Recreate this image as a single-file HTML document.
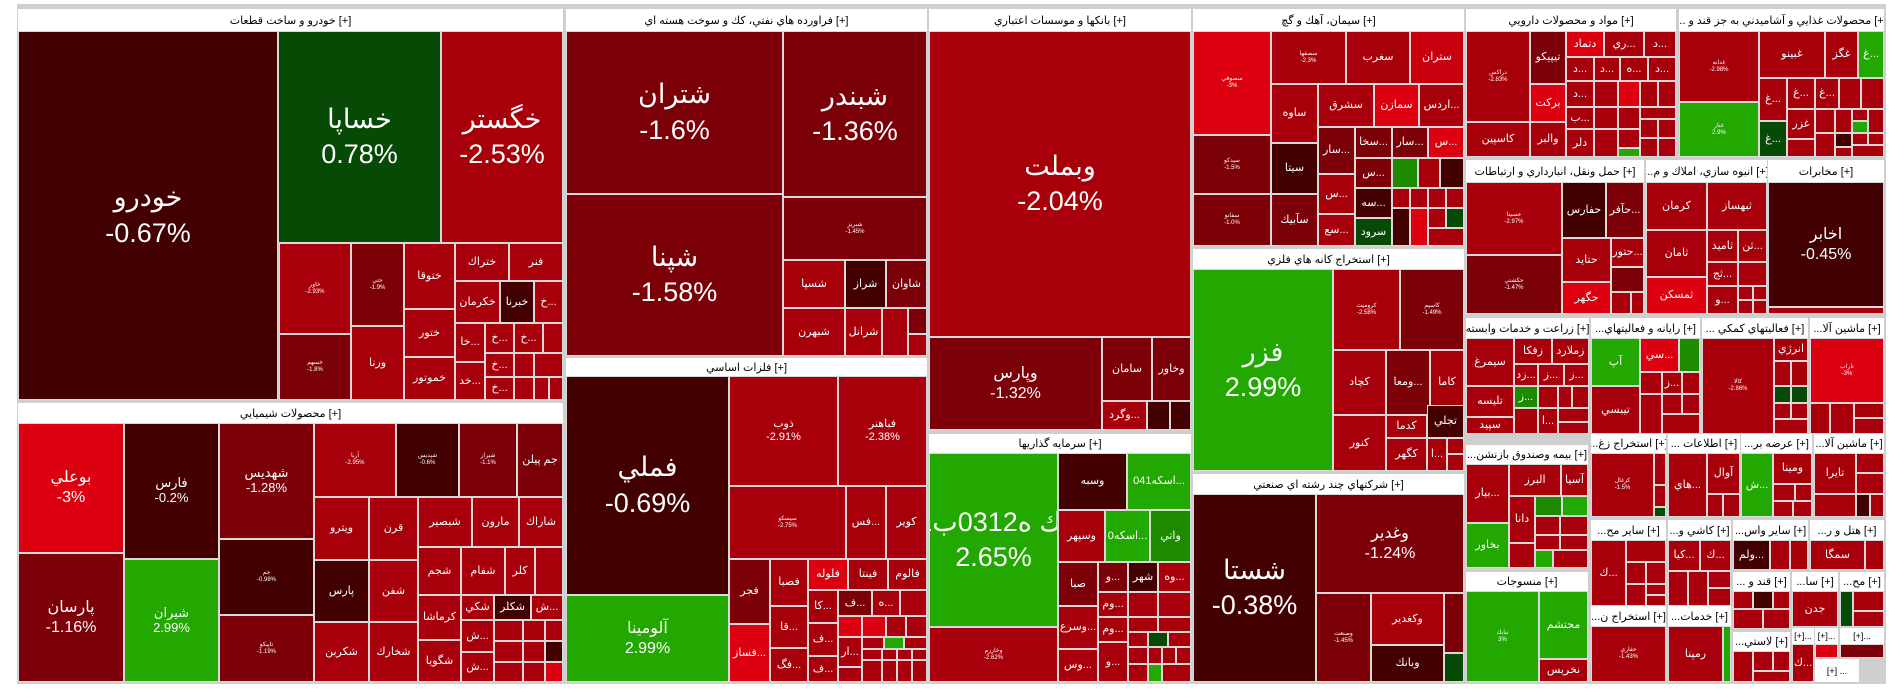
<!DOCTYPE html>
<html><head><meta charset="utf-8">
<style>
html,body{margin:0;padding:0;background:#fff;}
#w{position:relative;width:1904px;height:698px;overflow:hidden;background:#fff;font-family:"Liberation Sans","DejaVu Sans",sans-serif;}
#bg{position:absolute;left:17px;top:4px;width:1869px;height:680px;background:#cfcfcf;}
.c{position:absolute;box-sizing:border-box;border:1px solid #d9d9d9;color:#fff;display:flex;flex-direction:column;align-items:center;justify-content:center;text-align:center;overflow:hidden;line-height:1.15;font-size:11px;white-space:nowrap;}
.h{position:absolute;box-sizing:border-box;background:#fff;color:#000;font-size:11px;display:flex;align-items:center;justify-content:center;overflow:hidden;white-space:nowrap;}
.b{font-size:27px;line-height:1.3}.m{font-size:16px;line-height:1.25}.t{font-size:6px}
.D{background:#430000}.M{background:#7b0008}.R{background:#a8000a}.B{background:#dd0010}.B2{background:#c8000e}
.G{background:#22a800}.DG{background:#064a06}.G2{background:#1e8a00}
</style></head><body><div id="w"><div id="bg"></div>

<div class="h" style="left:18px;top:9px;width:545px;height:22px">خودرو و ساخت قطعات [+]</div>
<div class="c D b" style="left:18px;top:31px;width:260px;height:369px">خودرو<br>-0.67%</div>
<div class="c DG b" style="left:278px;top:31px;width:163px;height:212px">خساپا<br>0.78%</div>
<div class="c R b" style="left:441px;top:31px;width:122px;height:212px">خگستر<br>-2.53%</div>
<div class="c R t" style="left:279px;top:243px;width:72px;height:91px">خاور<br>-2.93%</div>
<div class="c M t" style="left:351px;top:243px;width:53px;height:83px">ختي<br>-1.9%</div>
<div class="c R" style="left:351px;top:326px;width:53px;height:74px">ورنا</div>
<div class="c M t" style="left:279px;top:334px;width:72px;height:66px">خسهم<br>-1.8%</div>
<div class="c R" style="left:404px;top:243px;width:51px;height:66px">ختوقا</div>
<div class="c R" style="left:404px;top:309px;width:51px;height:48px">ختور</div>
<div class="c R" style="left:404px;top:357px;width:51px;height:43px">خموتور</div>
<div class="c R" style="left:455px;top:243px;width:54px;height:38px">ختراك</div>
<div class="c R" style="left:509px;top:243px;width:54px;height:38px">فنر</div>
<div class="c R" style="left:455px;top:281px;width:45px;height:42px">خكرمان</div>
<div class="c D" style="left:500px;top:281px;width:34px;height:42px">خبرنا</div>
<div class="c R" style="left:534px;top:281px;width:29px;height:42px">خ...</div>
<div class="c R" style="left:455px;top:323px;width:30px;height:39px">خا...</div>
<div class="c R" style="left:485px;top:323px;width:29px;height:30px">خ...</div>
<div class="c R" style="left:514px;top:323px;width:29px;height:30px">خ...</div>
<div class="c R" style="left:543px;top:323px;width:20px;height:30px"></div>
<div class="c R" style="left:485px;top:353px;width:29px;height:24px">خ...</div>
<div class="c R" style="left:514px;top:353px;width:20px;height:24px"></div>
<div class="c R" style="left:534px;top:353px;width:29px;height:24px"></div>
<div class="c R" style="left:455px;top:362px;width:30px;height:38px">خد...</div>
<div class="c R" style="left:485px;top:377px;width:29px;height:23px">خ...</div>
<div class="c R" style="left:514px;top:377px;width:20px;height:23px"></div>
<div class="c R" style="left:534px;top:377px;width:15px;height:23px"></div>
<div class="c R" style="left:549px;top:377px;width:14px;height:23px"></div>

<div class="h" style="left:18px;top:403px;width:545px;height:20px">محصولات شيميايي [+]</div>
<div class="c B m" style="left:18px;top:423px;width:106px;height:130px">بوعلي<br>-3%</div>
<div class="c M m" style="left:18px;top:553px;width:106px;height:129px">پارسان<br>-1.16%</div>
<div class="c D" style="left:124px;top:423px;width:95px;height:136px;font-size:13px">فارس<br>-0.2%</div>
<div class="c G" style="left:124px;top:559px;width:95px;height:123px;font-size:13px">شيران<br>2.99%</div>
<div class="c M" style="left:219px;top:423px;width:95px;height:116px;font-size:13px">شهديس<br>-1.28%</div>
<div class="c D t" style="left:219px;top:539px;width:95px;height:76px">جم<br>-0.98%</div>
<div class="c M t" style="left:219px;top:615px;width:95px;height:67px">تاپيكو<br>-1.19%</div>
<div class="c R t" style="left:314px;top:423px;width:82px;height:74px">آريا<br>-2.95%</div>
<div class="c D t" style="left:396px;top:423px;width:63px;height:74px">شپدیس<br>-0.6%</div>
<div class="c M t" style="left:459px;top:423px;width:58px;height:74px">شيراز<br>-1.1%</div>
<div class="c M" style="left:517px;top:423px;width:46px;height:74px">جم پيلن</div>
<div class="c R" style="left:314px;top:497px;width:55px;height:63px">ويترو</div>
<div class="c R" style="left:369px;top:497px;width:49px;height:63px">قرن</div>
<div class="c R" style="left:418px;top:497px;width:54px;height:50px">شبصير</div>
<div class="c R" style="left:472px;top:497px;width:47px;height:50px">مارون</div>
<div class="c R" style="left:519px;top:497px;width:44px;height:50px">شاراك</div>
<div class="c D" style="left:314px;top:560px;width:55px;height:62px">پارس</div>
<div class="c R" style="left:369px;top:560px;width:49px;height:62px">شفن</div>
<div class="c R" style="left:314px;top:622px;width:55px;height:60px">شكربن</div>
<div class="c R" style="left:369px;top:622px;width:49px;height:60px">شخارك</div>
<div class="c R" style="left:418px;top:547px;width:43px;height:48px">شجم</div>
<div class="c R" style="left:461px;top:547px;width:44px;height:48px">شفام</div>
<div class="c R" style="left:505px;top:547px;width:30px;height:48px">كلر</div>
<div class="c R" style="left:535px;top:547px;width:28px;height:48px"></div>
<div class="c R" style="left:418px;top:595px;width:43px;height:45px">كرماشا</div>
<div class="c R" style="left:418px;top:640px;width:43px;height:42px">شگويا</div>
<div class="c R" style="left:461px;top:595px;width:33px;height:25px">شكي</div>
<div class="c D" style="left:494px;top:595px;width:37px;height:25px">شكلر</div>
<div class="c R" style="left:531px;top:595px;width:32px;height:25px">ش...</div>
<div class="c R" style="left:461px;top:620px;width:33px;height:32px">ش...</div>
<div class="c R" style="left:461px;top:652px;width:33px;height:30px">ش...</div>
<div class="c R" style="left:494px;top:620px;width:29px;height:21px"></div>
<div class="c R" style="left:523px;top:620px;width:22px;height:21px"></div>
<div class="c R" style="left:545px;top:620px;width:18px;height:21px"></div>
<div class="c R" style="left:494px;top:641px;width:29px;height:21px"></div>
<div class="c R" style="left:523px;top:641px;width:22px;height:21px"></div>
<div class="c D" style="left:545px;top:641px;width:18px;height:21px"></div>
<div class="c R" style="left:494px;top:662px;width:29px;height:20px"></div>
<div class="c R" style="left:523px;top:662px;width:22px;height:20px"></div>
<div class="c B" style="left:545px;top:662px;width:18px;height:20px"></div>

<div class="h" style="left:566px;top:9px;width:361px;height:22px">فراورده هاي نفتي، كك و سوخت هسته اي [+]</div>
<div class="c M b" style="left:566px;top:31px;width:217px;height:163px">شتران<br>-1.6%</div>
<div class="c M b" style="left:566px;top:194px;width:217px;height:162px">شپنا<br>-1.58%</div>
<div class="c M b" style="left:783px;top:31px;width:144px;height:166px">شبندر<br>-1.36%</div>
<div class="c M t" style="left:783px;top:197px;width:144px;height:63px">شبريز<br>-1.45%</div>
<div class="c R" style="left:783px;top:260px;width:62px;height:48px">شسپا</div>
<div class="c D" style="left:845px;top:260px;width:41px;height:48px">شراز</div>
<div class="c M" style="left:886px;top:260px;width:41px;height:48px">شاوان</div>
<div class="c R" style="left:783px;top:308px;width:62px;height:48px">شبهرن</div>
<div class="c R" style="left:845px;top:308px;width:37px;height:48px">شرانل</div>
<div class="c R" style="left:882px;top:308px;width:26px;height:48px"></div>
<div class="c M" style="left:908px;top:308px;width:19px;height:26px"></div>
<div class="c R" style="left:908px;top:334px;width:19px;height:22px"></div>

<div class="h" style="left:566px;top:358px;width:361px;height:18px">فلزات اساسي [+]</div>
<div class="c D b" style="left:566px;top:376px;width:163px;height:219px">فملي<br>-0.69%</div>
<div class="c G m" style="left:566px;top:595px;width:163px;height:87px">آلومينا<br>2.99%</div>
<div class="c R" style="left:729px;top:376px;width:109px;height:110px">ذوب<br>-2.91%</div>
<div class="c R" style="left:838px;top:376px;width:89px;height:110px">فباهنر<br>-2.38%</div>
<div class="c R t" style="left:729px;top:486px;width:117px;height:73px">سيسكو<br>-2.75%</div>
<div class="c R" style="left:846px;top:486px;width:40px;height:73px">فس...</div>
<div class="c R" style="left:886px;top:486px;width:41px;height:73px">كوير</div>
<div class="c M" style="left:729px;top:559px;width:41px;height:65px">فجر</div>
<div class="c B" style="left:729px;top:624px;width:41px;height:58px">فساز...</div>
<div class="c R" style="left:770px;top:559px;width:38px;height:47px">فصبا</div>
<div class="c R" style="left:770px;top:606px;width:38px;height:42px">قا...</div>
<div class="c R" style="left:770px;top:648px;width:38px;height:34px">فگ...</div>
<div class="c B" style="left:808px;top:559px;width:40px;height:31px">فلوله</div>
<div class="c R" style="left:848px;top:559px;width:40px;height:31px">فينتا</div>
<div class="c R" style="left:888px;top:559px;width:39px;height:31px">فالوم</div>
<div class="c R" style="left:808px;top:590px;width:30px;height:33px">كا...</div>
<div class="c M" style="left:838px;top:590px;width:34px;height:26px">ف...</div>
<div class="c R" style="left:872px;top:590px;width:28px;height:26px">ه...</div>
<div class="c R" style="left:900px;top:590px;width:27px;height:26px"></div>
<div class="c B" style="left:838px;top:616px;width:24px;height:21px"></div>
<div class="c B" style="left:862px;top:616px;width:24px;height:21px"></div>
<div class="c R" style="left:886px;top:616px;width:20px;height:21px"></div>
<div class="c R" style="left:906px;top:616px;width:21px;height:21px"></div>
<div class="c R" style="left:808px;top:623px;width:30px;height:33px">ف...</div>
<div class="c R" style="left:838px;top:637px;width:24px;height:30px">ار...</div>
<div class="c R" style="left:862px;top:637px;width:22px;height:12px"></div>
<div class="c G" style="left:884px;top:637px;width:20px;height:12px"></div>
<div class="c R" style="left:904px;top:637px;width:23px;height:12px"></div>
<div class="c R" style="left:862px;top:649px;width:20px;height:11px"></div>
<div class="c R" style="left:882px;top:649px;width:15px;height:11px"></div>
<div class="c R" style="left:897px;top:649px;width:15px;height:11px"></div>
<div class="c R" style="left:912px;top:649px;width:15px;height:11px"></div>
<div class="c R" style="left:808px;top:656px;width:30px;height:26px">ف...</div>
<div class="c R" style="left:838px;top:667px;width:24px;height:15px"></div>
<div class="c R" style="left:862px;top:660px;width:20px;height:22px"></div>
<div class="c R" style="left:882px;top:660px;width:15px;height:22px"></div>
<div class="c R" style="left:897px;top:660px;width:15px;height:22px"></div>
<div class="c R" style="left:912px;top:660px;width:15px;height:22px"></div>

<div class="h" style="left:929px;top:9px;width:262px;height:22px">بانكها و موسسات اعتباري [+]</div>
<div class="c R b" style="left:929px;top:31px;width:262px;height:306px">وبملت<br>-2.04%</div>
<div class="c M m" style="left:929px;top:337px;width:173px;height:93px">وپارس<br>-1.32%</div>
<div class="c M" style="left:1102px;top:337px;width:50px;height:64px">سامان</div>
<div class="c M" style="left:1152px;top:337px;width:39px;height:64px">وخاور</div>
<div class="c R" style="left:1102px;top:401px;width:45px;height:29px">وگرد...</div>
<div class="c D" style="left:1147px;top:401px;width:23px;height:29px"></div>
<div class="c D" style="left:1170px;top:401px;width:21px;height:29px"></div>

<div class="h" style="left:929px;top:434px;width:262px;height:19px">سرمايه گذاريها [+]</div>
<div class="c G b" style="left:929px;top:453px;width:129px;height:174px">سك ه0312ب01<br>2.65%</div>
<div class="c R t" style="left:929px;top:627px;width:129px;height:55px">وخارزم<br>-2.62%</div>
<div class="c D" style="left:1058px;top:453px;width:69px;height:57px">وسبه</div>
<div class="c G" style="left:1127px;top:453px;width:64px;height:57px">اسكه041...</div>
<div class="c R" style="left:1058px;top:510px;width:47px;height:52px">وسپهر</div>
<div class="c G" style="left:1105px;top:510px;width:45px;height:52px">اسكه0...</div>
<div class="c G2" style="left:1150px;top:510px;width:41px;height:52px">واتي</div>
<div class="c M" style="left:1058px;top:562px;width:40px;height:44px">صبا</div>
<div class="c R" style="left:1058px;top:606px;width:40px;height:43px">وسرع...</div>
<div class="c R" style="left:1058px;top:649px;width:40px;height:33px">وس...</div>
<div class="c M" style="left:1098px;top:562px;width:30px;height:30px">و...</div>
<div class="c D" style="left:1128px;top:562px;width:30px;height:30px">شهر</div>
<div class="c R" style="left:1158px;top:562px;width:33px;height:30px">وه...</div>
<div class="c R" style="left:1098px;top:592px;width:30px;height:25px">وم...</div>
<div class="c R" style="left:1128px;top:592px;width:30px;height:25px"></div>
<div class="c R" style="left:1158px;top:592px;width:33px;height:25px"></div>
<div class="c R" style="left:1098px;top:617px;width:30px;height:25px">وم...</div>
<div class="c R" style="left:1128px;top:617px;width:30px;height:15px"></div>
<div class="c R" style="left:1158px;top:617px;width:33px;height:15px"></div>
<div class="c R" style="left:1128px;top:632px;width:20px;height:15px"></div>
<div class="c DG" style="left:1148px;top:632px;width:20px;height:15px"></div>
<div class="c R" style="left:1168px;top:632px;width:23px;height:15px"></div>
<div class="c R" style="left:1098px;top:642px;width:30px;height:40px">و...</div>
<div class="c R" style="left:1128px;top:647px;width:20px;height:17px"></div>
<div class="c R" style="left:1148px;top:647px;width:14px;height:17px"></div>
<div class="c R" style="left:1162px;top:647px;width:14px;height:17px"></div>
<div class="c R" style="left:1176px;top:647px;width:15px;height:17px"></div>
<div class="c R" style="left:1128px;top:664px;width:20px;height:18px"></div>
<div class="c G" style="left:1148px;top:664px;width:14px;height:18px"></div>
<div class="c R" style="left:1162px;top:664px;width:29px;height:18px"></div>

<div class="h" style="left:1193px;top:9px;width:271px;height:22px">سيمان، آهك و گچ [+]</div>
<div class="c B t" style="left:1193px;top:31px;width:78px;height:104px">سصوفي<br>-3%</div>
<div class="c M t" style="left:1193px;top:135px;width:78px;height:59px">سيدكو<br>-1.5%</div>
<div class="c M t" style="left:1193px;top:194px;width:78px;height:52px">سفانو<br>-1.0%</div>
<div class="c R t" style="left:1271px;top:31px;width:75px;height:53px">سصفها<br>-2.3%</div>
<div class="c R" style="left:1346px;top:31px;width:64px;height:53px">سغرب</div>
<div class="c B2" style="left:1410px;top:31px;width:54px;height:53px">ستران</div>
<div class="c R" style="left:1271px;top:84px;width:47px;height:59px">ساوه</div>
<div class="c D" style="left:1271px;top:143px;width:47px;height:51px">سيتا</div>
<div class="c M" style="left:1271px;top:194px;width:47px;height:52px">سآبيك</div>
<div class="c R" style="left:1318px;top:84px;width:56px;height:43px">سشرق</div>
<div class="c B" style="left:1374px;top:84px;width:45px;height:43px">سمازن</div>
<div class="c R" style="left:1419px;top:84px;width:45px;height:43px">اردس...</div>
<div class="c M" style="left:1318px;top:127px;width:37px;height:47px">سار...</div>
<div class="c M" style="left:1355px;top:127px;width:37px;height:31px">سخا...</div>
<div class="c M" style="left:1392px;top:127px;width:36px;height:31px">سار...</div>
<div class="c B" style="left:1428px;top:127px;width:36px;height:31px">س...</div>
<div class="c R" style="left:1318px;top:174px;width:37px;height:40px">س...</div>
<div class="c R" style="left:1318px;top:214px;width:37px;height:32px">سع...</div>
<div class="c M" style="left:1355px;top:158px;width:37px;height:30px">س...</div>
<div class="c G2" style="left:1392px;top:158px;width:26px;height:30px"></div>
<div class="c R" style="left:1418px;top:158px;width:22px;height:30px"></div>
<div class="c D" style="left:1440px;top:158px;width:24px;height:30px"></div>
<div class="c D" style="left:1355px;top:188px;width:37px;height:30px">سه...</div>
<div class="c R" style="left:1392px;top:188px;width:18px;height:20px"></div>
<div class="c R" style="left:1410px;top:188px;width:18px;height:20px"></div>
<div class="c R" style="left:1428px;top:188px;width:18px;height:20px"></div>
<div class="c R" style="left:1446px;top:188px;width:18px;height:20px"></div>
<div class="c DG" style="left:1355px;top:218px;width:37px;height:28px">سرود</div>
<div class="c D" style="left:1392px;top:208px;width:18px;height:38px"></div>
<div class="c B" style="left:1410px;top:208px;width:18px;height:38px"></div>
<div class="c R" style="left:1428px;top:208px;width:18px;height:20px"></div>
<div class="c DG" style="left:1446px;top:208px;width:18px;height:20px"></div>
<div class="c R" style="left:1428px;top:228px;width:36px;height:18px"></div>

<div class="h" style="left:1193px;top:249px;width:271px;height:20px">استخراج كانه هاي فلزي [+]</div>
<div class="c G b" style="left:1193px;top:269px;width:140px;height:202px">فزر<br>2.99%</div>
<div class="c R t" style="left:1333px;top:269px;width:67px;height:81px">كروميت<br>-2.58%</div>
<div class="c M t" style="left:1400px;top:269px;width:64px;height:81px">كاسپم<br>-1.49%</div>
<div class="c R" style="left:1333px;top:350px;width:53px;height:65px">كچاد</div>
<div class="c M" style="left:1386px;top:350px;width:44px;height:65px">ومعا...</div>
<div class="c R" style="left:1430px;top:350px;width:34px;height:65px">كاما</div>
<div class="c R" style="left:1333px;top:415px;width:53px;height:56px">كنور</div>
<div class="c R" style="left:1386px;top:415px;width:41px;height:23px">كدما</div>
<div class="c D" style="left:1427px;top:405px;width:37px;height:33px">تجلي</div>
<div class="c R" style="left:1386px;top:438px;width:41px;height:33px">كگهر</div>
<div class="c R" style="left:1427px;top:438px;width:20px;height:33px">ا...</div>
<div class="c R" style="left:1447px;top:438px;width:17px;height:16px"></div>
<div class="c R" style="left:1447px;top:454px;width:17px;height:17px"></div>

<div class="h" style="left:1193px;top:474px;width:271px;height:20px">شركتهاي چند رشته اي صنعتي [+]</div>
<div class="c D b" style="left:1193px;top:494px;width:123px;height:188px">شستا<br>-0.38%</div>
<div class="c M m" style="left:1316px;top:494px;width:148px;height:99px">وغدير<br>-1.24%</div>
<div class="c M t" style="left:1316px;top:593px;width:55px;height:89px">وصنعت<br>-1.45%</div>
<div class="c R" style="left:1371px;top:593px;width:73px;height:52px">وكغدير</div>
<div class="c D" style="left:1371px;top:645px;width:73px;height:37px">وبانك</div>
<div class="c M" style="left:1444px;top:593px;width:20px;height:60px"></div>
<div class="c DG" style="left:1444px;top:653px;width:20px;height:29px"></div>

<div class="h" style="left:1466px;top:9px;width:210px;height:22px">مواد و محصولات دارويي [+]</div>
<div class="c R t" style="left:1466px;top:31px;width:64px;height:91px">دراكس<br>-2.83%</div>
<div class="c R" style="left:1466px;top:122px;width:64px;height:35px">كاسپين</div>
<div class="c M" style="left:1530px;top:31px;width:36px;height:53px">تيپيكو</div>
<div class="c B" style="left:1530px;top:84px;width:36px;height:38px">بركت</div>
<div class="c R" style="left:1530px;top:122px;width:36px;height:35px">والبر</div>
<div class="c B" style="left:1566px;top:31px;width:38px;height:26px">دتماد</div>
<div class="c R" style="left:1604px;top:31px;width:40px;height:26px">ري...</div>
<div class="c R" style="left:1644px;top:31px;width:32px;height:26px">د...</div>
<div class="c R" style="left:1566px;top:57px;width:28px;height:24px">د...</div>
<div class="c R" style="left:1594px;top:57px;width:26px;height:24px">د...</div>
<div class="c R" style="left:1620px;top:57px;width:28px;height:24px">ه...</div>
<div class="c R" style="left:1648px;top:57px;width:28px;height:24px">د...</div>
<div class="c R" style="left:1566px;top:81px;width:28px;height:26px">د...</div>
<div class="c R" style="left:1594px;top:81px;width:24px;height:26px"></div>
<div class="c B" style="left:1618px;top:81px;width:22px;height:26px"></div>
<div class="c R" style="left:1640px;top:81px;width:18px;height:26px"></div>
<div class="c R" style="left:1658px;top:81px;width:18px;height:26px"></div>
<div class="c R" style="left:1566px;top:107px;width:28px;height:22px">ب...</div>
<div class="c R" style="left:1594px;top:107px;width:24px;height:22px"></div>
<div class="c R" style="left:1618px;top:107px;width:22px;height:22px"></div>
<div class="c R" style="left:1640px;top:107px;width:36px;height:12px"></div>
<div class="c R" style="left:1566px;top:129px;width:28px;height:28px">دلر</div>
<div class="c R" style="left:1594px;top:129px;width:24px;height:28px"></div>
<div class="c R" style="left:1618px;top:129px;width:22px;height:19px"></div>
<div class="c G" style="left:1618px;top:148px;width:22px;height:9px"></div>
<div class="c R" style="left:1640px;top:119px;width:18px;height:19px"></div>
<div class="c R" style="left:1658px;top:119px;width:18px;height:19px"></div>
<div class="c R" style="left:1640px;top:138px;width:18px;height:19px"></div>
<div class="c R" style="left:1658px;top:138px;width:18px;height:19px"></div>

<div class="h" style="left:1679px;top:9px;width:205px;height:22px">... محصولات غذايي و آشاميدني به جز قند و [+]</div>
<div class="c R t" style="left:1679px;top:31px;width:80px;height:71px">غدانه<br>-2.98%</div>
<div class="c G t" style="left:1679px;top:102px;width:80px;height:55px">غنار<br>2.9%</div>
<div class="c R" style="left:1759px;top:31px;width:66px;height:47px">غبينو</div>
<div class="c R" style="left:1825px;top:31px;width:33px;height:47px">غگز</div>
<div class="c G" style="left:1858px;top:31px;width:26px;height:47px">غ...</div>
<div class="c R" style="left:1759px;top:78px;width:28px;height:43px">غ...</div>
<div class="c R" style="left:1787px;top:78px;width:28px;height:31px">غ...</div>
<div class="c R" style="left:1815px;top:78px;width:24px;height:31px">غ...</div>
<div class="c R" style="left:1839px;top:78px;width:22px;height:31px"></div>
<div class="c R" style="left:1861px;top:78px;width:23px;height:31px"></div>
<div class="c R" style="left:1787px;top:109px;width:28px;height:30px">غزر</div>
<div class="c DG" style="left:1759px;top:121px;width:28px;height:36px">غ...</div>
<div class="c R" style="left:1787px;top:139px;width:28px;height:18px"></div>
<div class="c R" style="left:1815px;top:109px;width:20px;height:24px"></div>
<div class="c R" style="left:1835px;top:109px;width:17px;height:24px"></div>
<div class="c R" style="left:1852px;top:109px;width:16px;height:12px"></div>
<div class="c G" style="left:1852px;top:121px;width:16px;height:12px"></div>
<div class="c R" style="left:1868px;top:109px;width:16px;height:24px"></div>
<div class="c R" style="left:1815px;top:133px;width:20px;height:24px"></div>
<div class="c D" style="left:1835px;top:133px;width:17px;height:14px"></div>
<div class="c R" style="left:1835px;top:147px;width:17px;height:10px"></div>
<div class="c R" style="left:1852px;top:133px;width:16px;height:12px"></div>
<div class="c R" style="left:1868px;top:133px;width:16px;height:12px"></div>
<div class="c R" style="left:1852px;top:145px;width:32px;height:12px"></div>

<div class="h" style="left:1466px;top:160px;width:178px;height:22px">حمل ونقل، انبارداري و ارتباطات [+]</div>
<div class="c R t" style="left:1466px;top:182px;width:96px;height:73px">حسينا<br>-2.97%</div>
<div class="c M t" style="left:1466px;top:255px;width:96px;height:59px">حكشتي<br>-1.47%</div>
<div class="c D" style="left:1562px;top:182px;width:44px;height:56px">حفارس</div>
<div class="c M" style="left:1606px;top:182px;width:38px;height:56px">حآفر...</div>
<div class="c R" style="left:1562px;top:238px;width:49px;height:44px">حتايد</div>
<div class="c B" style="left:1562px;top:282px;width:49px;height:32px">حگهر</div>
<div class="c R" style="left:1611px;top:238px;width:33px;height:29px">حتور...</div>
<div class="c M" style="left:1611px;top:267px;width:33px;height:25px"></div>
<div class="c R" style="left:1611px;top:292px;width:20px;height:22px"></div>
<div class="c R" style="left:1631px;top:292px;width:13px;height:22px"></div>

<div class="h" style="left:1646px;top:160px;width:121px;height:22px">...انبوه سازي، املاك و م [+]</div>
<div class="c R" style="left:1646px;top:182px;width:61px;height:48px">كرمان</div>
<div class="c R" style="left:1707px;top:182px;width:60px;height:48px">ثبهساز</div>
<div class="c R" style="left:1646px;top:230px;width:61px;height:47px">ثامان</div>
<div class="c B" style="left:1646px;top:277px;width:61px;height:37px">ثمسكن</div>
<div class="c R" style="left:1707px;top:230px;width:31px;height:32px">ثاميد</div>
<div class="c R" style="left:1738px;top:230px;width:29px;height:32px">ثن...</div>
<div class="c R" style="left:1707px;top:262px;width:31px;height:24px">ثج...</div>
<div class="c R" style="left:1738px;top:262px;width:29px;height:24px"></div>
<div class="c R" style="left:1707px;top:286px;width:31px;height:28px">و...</div>
<div class="c R" style="left:1738px;top:286px;width:15px;height:14px"></div>
<div class="c R" style="left:1753px;top:286px;width:14px;height:14px"></div>
<div class="c R" style="left:1738px;top:300px;width:15px;height:14px"></div>
<div class="c R" style="left:1753px;top:300px;width:14px;height:14px"></div>

<div class="h" style="left:1768px;top:160px;width:116px;height:22px">مخابرات [+]</div>
<div class="c D m" style="left:1768px;top:182px;width:116px;height:125px">اخابر<br>-0.45%</div>
<div class="c R" style="left:1768px;top:307px;width:116px;height:7px"></div>

<div class="h" style="left:1466px;top:318px;width:123px;height:20px">زراعت و خدمات وابسته [+]</div>
<div class="c R" style="left:1466px;top:338px;width:48px;height:48px">سيمرغ</div>
<div class="c R" style="left:1466px;top:386px;width:48px;height:31px">تليسه</div>
<div class="c R" style="left:1466px;top:417px;width:48px;height:17px">سپيد</div>
<div class="c R" style="left:1514px;top:338px;width:38px;height:26px">زفكا</div>
<div class="c R" style="left:1552px;top:338px;width:37px;height:26px">زملارد</div>
<div class="c R" style="left:1514px;top:364px;width:24px;height:22px">زد...</div>
<div class="c R" style="left:1538px;top:364px;width:26px;height:22px">ز...</div>
<div class="c R" style="left:1564px;top:364px;width:25px;height:22px">ز...</div>
<div class="c G2" style="left:1514px;top:386px;width:24px;height:22px">ز...</div>
<div class="c R" style="left:1538px;top:386px;width:20px;height:22px"></div>
<div class="c R" style="left:1558px;top:386px;width:14px;height:22px"></div>
<div class="c R" style="left:1572px;top:386px;width:17px;height:22px"></div>
<div class="c R" style="left:1514px;top:408px;width:24px;height:26px"></div>
<div class="c R" style="left:1538px;top:408px;width:20px;height:26px">ا...</div>
<div class="c R" style="left:1558px;top:408px;width:31px;height:14px"></div>
<div class="c R" style="left:1558px;top:422px;width:31px;height:12px"></div>

<div class="h" style="left:1591px;top:318px;width:109px;height:20px">...رايانه و فعاليتهاي [+]</div>
<div class="c G" style="left:1591px;top:338px;width:49px;height:48px">آپ</div>
<div class="c R" style="left:1591px;top:386px;width:49px;height:48px">تيبسي</div>
<div class="c B" style="left:1640px;top:338px;width:39px;height:34px">سي...</div>
<div class="c G2" style="left:1679px;top:338px;width:21px;height:34px"></div>
<div class="c R" style="left:1640px;top:372px;width:22px;height:22px"></div>
<div class="c R" style="left:1662px;top:372px;width:20px;height:22px">ز...</div>
<div class="c R" style="left:1682px;top:372px;width:18px;height:22px"></div>
<div class="c R" style="left:1640px;top:394px;width:22px;height:40px"></div>
<div class="c R" style="left:1662px;top:394px;width:20px;height:20px"></div>
<div class="c R" style="left:1682px;top:394px;width:18px;height:20px"></div>
<div class="c R" style="left:1662px;top:414px;width:38px;height:20px"></div>

<div class="h" style="left:1702px;top:318px;width:106px;height:20px">... فعاليتهاي كمكي [+]</div>
<div class="c R t" style="left:1702px;top:338px;width:72px;height:96px">كالا<br>-2.86%</div>
<div class="c R" style="left:1774px;top:338px;width:34px;height:23px">انرژي</div>
<div class="c R" style="left:1774px;top:361px;width:17px;height:25px"></div>
<div class="c R" style="left:1791px;top:361px;width:17px;height:25px"></div>
<div class="c DG" style="left:1774px;top:386px;width:17px;height:17px"></div>
<div class="c DG" style="left:1791px;top:386px;width:17px;height:17px"></div>
<div class="c R" style="left:1774px;top:403px;width:17px;height:16px"></div>
<div class="c R" style="left:1791px;top:403px;width:17px;height:16px"></div>
<div class="c R" style="left:1774px;top:419px;width:34px;height:15px"></div>

<div class="h" style="left:1810px;top:318px;width:74px;height:20px">...ماشين آلا [+]</div>
<div class="c B t" style="left:1810px;top:338px;width:74px;height:65px">تاراب<br>-3%</div>
<div class="c R" style="left:1810px;top:403px;width:20px;height:31px"></div>
<div class="c R" style="left:1830px;top:403px;width:24px;height:31px"></div>
<div class="c R" style="left:1854px;top:403px;width:30px;height:15px"></div>
<div class="c R" style="left:1854px;top:418px;width:30px;height:16px"></div>

<div class="h" style="left:1466px;top:445px;width:122px;height:19px">...بيمه وصندوق بازنشن [+]</div>
<div class="c R" style="left:1466px;top:464px;width:43px;height:59px">بيار...</div>
<div class="c G" style="left:1466px;top:523px;width:43px;height:45px">بخاور</div>
<div class="c R" style="left:1509px;top:464px;width:52px;height:32px">البرز</div>
<div class="c R" style="left:1561px;top:464px;width:27px;height:32px">آسيا</div>
<div class="c R" style="left:1509px;top:496px;width:26px;height:47px">دانا</div>
<div class="c R" style="left:1509px;top:543px;width:26px;height:25px"></div>
<div class="c G2" style="left:1535px;top:496px;width:27px;height:20px"></div>
<div class="c G" style="left:1562px;top:496px;width:26px;height:20px"></div>
<div class="c R" style="left:1535px;top:516px;width:25px;height:19px"></div>
<div class="c R" style="left:1560px;top:516px;width:28px;height:19px"></div>
<div class="c R" style="left:1535px;top:535px;width:25px;height:15px"></div>
<div class="c R" style="left:1560px;top:535px;width:28px;height:15px"></div>
<div class="c G" style="left:1535px;top:550px;width:18px;height:18px"></div>
<div class="c R" style="left:1553px;top:550px;width:35px;height:18px"></div>

<div class="h" style="left:1466px;top:572px;width:122px;height:19px">منسوجات [+]</div>
<div class="c G t" style="left:1466px;top:591px;width:73px;height:91px">نبابك<br>3%</div>
<div class="c G" style="left:1539px;top:591px;width:49px;height:68px">محتشم</div>
<div class="c R" style="left:1539px;top:659px;width:49px;height:23px">نخريس</div>

<div class="h" style="left:1591px;top:434px;width:75px;height:19px">...استخراج زغ [+]</div>
<div class="c R t" style="left:1591px;top:453px;width:63px;height:64px">كزغال<br>-1.5%</div>
<div class="c R" style="left:1654px;top:453px;width:12px;height:32px"></div>
<div class="c R" style="left:1654px;top:485px;width:12px;height:22px"></div>
<div class="c DG" style="left:1654px;top:507px;width:12px;height:10px"></div>

<div class="h" style="left:1668px;top:434px;width:72px;height:19px">... اطلاعات [+]</div>
<div class="c R" style="left:1668px;top:453px;width:39px;height:64px">هاي...</div>
<div class="c R" style="left:1707px;top:453px;width:33px;height:41px">آوال</div>
<div class="c R" style="left:1707px;top:494px;width:16px;height:23px"></div>
<div class="c R" style="left:1723px;top:494px;width:17px;height:23px"></div>

<div class="h" style="left:1741px;top:434px;width:71px;height:19px">...عرضه بر [+]</div>
<div class="c G" style="left:1741px;top:453px;width:32px;height:64px">ش...</div>
<div class="c R" style="left:1773px;top:453px;width:39px;height:31px">ومينا</div>
<div class="c R" style="left:1773px;top:484px;width:22px;height:17px"></div>
<div class="c R" style="left:1795px;top:484px;width:17px;height:17px"></div>
<div class="c R" style="left:1773px;top:501px;width:20px;height:16px"></div>
<div class="c R" style="left:1793px;top:501px;width:19px;height:16px"></div>

<div class="h" style="left:1814px;top:434px;width:70px;height:19px">...ماشين آلا [+]</div>
<div class="c R" style="left:1814px;top:453px;width:42px;height:41px">تايرا</div>
<div class="c R" style="left:1856px;top:453px;width:28px;height:20px"></div>
<div class="c R" style="left:1856px;top:473px;width:28px;height:21px"></div>
<div class="c R" style="left:1814px;top:494px;width:42px;height:23px"></div>
<div class="c D" style="left:1856px;top:494px;width:14px;height:23px"></div>
<div class="c R" style="left:1870px;top:494px;width:14px;height:23px"></div>

<div class="h" style="left:1591px;top:520px;width:75px;height:20px">...ساير مح [+]</div>
<div class="c R" style="left:1591px;top:540px;width:35px;height:66px">ك...</div>
<div class="c R" style="left:1626px;top:540px;width:40px;height:22px"></div>
<div class="c R" style="left:1626px;top:562px;width:20px;height:22px"></div>
<div class="c R" style="left:1646px;top:562px;width:20px;height:22px"></div>
<div class="c R" style="left:1626px;top:584px;width:20px;height:22px"></div>
<div class="c R" style="left:1646px;top:584px;width:20px;height:11px"></div>
<div class="c R" style="left:1646px;top:595px;width:20px;height:11px"></div>

<div class="h" style="left:1668px;top:520px;width:63px;height:20px">...كاشي و [+]</div>
<div class="c R" style="left:1668px;top:540px;width:32px;height:31px">كيا...</div>
<div class="c R" style="left:1700px;top:540px;width:31px;height:31px">ك...</div>
<div class="c R" style="left:1668px;top:571px;width:20px;height:35px"></div>
<div class="c R" style="left:1688px;top:571px;width:20px;height:35px"></div>
<div class="c R" style="left:1708px;top:571px;width:23px;height:17px"></div>
<div class="c R" style="left:1708px;top:588px;width:23px;height:18px"></div>

<div class="h" style="left:1733px;top:520px;width:75px;height:20px">...ساير واس [+]</div>
<div class="c D" style="left:1733px;top:540px;width:37px;height:30px">ولم...</div>
<div class="c R" style="left:1770px;top:540px;width:20px;height:30px"></div>
<div class="c R" style="left:1790px;top:540px;width:18px;height:30px"></div>

<div class="h" style="left:1810px;top:520px;width:74px;height:20px">...هتل و ر [+]</div>
<div class="c R" style="left:1810px;top:540px;width:55px;height:30px">سمگا</div>
<div class="c R" style="left:1865px;top:540px;width:19px;height:30px"></div>

<div class="h" style="left:1733px;top:572px;width:57px;height:19px">... قند و [+]</div>
<div class="c R" style="left:1733px;top:591px;width:20px;height:18px"></div>
<div class="c D" style="left:1753px;top:591px;width:20px;height:18px"></div>
<div class="c R" style="left:1773px;top:591px;width:17px;height:18px"></div>
<div class="c R" style="left:1733px;top:609px;width:30px;height:20px"></div>
<div class="c R" style="left:1763px;top:609px;width:27px;height:20px"></div>

<div class="h" style="left:1792px;top:572px;width:46px;height:19px">...سا [+]</div>
<div class="c R" style="left:1792px;top:591px;width:46px;height:36px">جدن</div>
<div class="h" style="left:1840px;top:572px;width:44px;height:19px">...مح [+]</div>
<div class="c DG" style="left:1840px;top:591px;width:13px;height:36px"></div>
<div class="c R" style="left:1853px;top:591px;width:31px;height:20px"></div>
<div class="c R" style="left:1853px;top:611px;width:31px;height:16px"></div>

<div class="h" style="left:1792px;top:628px;width:22px;height:16px;font-size:9px">[+]...</div>
<div class="h" style="left:1815px;top:628px;width:23px;height:16px;font-size:9px">[+]...</div>
<div class="h" style="left:1840px;top:628px;width:44px;height:16px;font-size:9px">[+]...</div>
<div class="c R" style="left:1792px;top:644px;width:22px;height:38px">ك...</div>
<div class="c B" style="left:1815px;top:644px;width:23px;height:14px"></div>
<div class="c M" style="left:1840px;top:644px;width:44px;height:14px"></div>
<div class="h" style="left:1815px;top:659px;width:44px;height:23px;font-size:9px">[+] ...</div>

<div class="h" style="left:1733px;top:632px;width:57px;height:19px">...لاستي [+]</div>
<div class="c R" style="left:1733px;top:651px;width:20px;height:31px"></div>
<div class="c R" style="left:1753px;top:651px;width:20px;height:20px"></div>
<div class="c R" style="left:1773px;top:651px;width:17px;height:20px"></div>
<div class="c R" style="left:1753px;top:671px;width:37px;height:11px"></div>

<div class="h" style="left:1591px;top:606px;width:75px;height:20px">...استخراج ن [+]</div>
<div class="c R t" style="left:1591px;top:626px;width:75px;height:56px">حفاري<br>-1.43%</div>
<div class="h" style="left:1668px;top:606px;width:63px;height:20px">...خدمات [+]</div>
<div class="c R" style="left:1668px;top:626px;width:55px;height:56px">رمپنا</div>
<div class="c G" style="left:1723px;top:626px;width:8px;height:56px"></div>

</div></body></html>
